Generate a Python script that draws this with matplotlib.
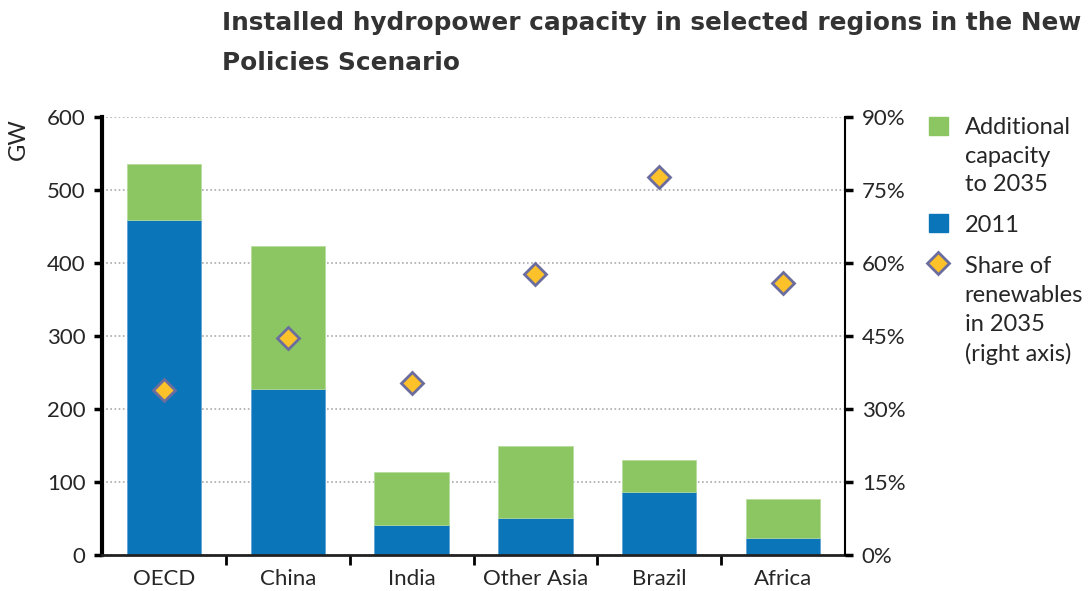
import matplotlib
matplotlib.use("Agg")
from matplotlib import pyplot as plt
from matplotlib.patches import Rectangle
from matplotlib.lines import Line2D
from matplotlib.ticker import PercentFormatter, FixedLocator
import numpy as np

regions = ["OECD", "China", "India", "Other Asia", "Brazil", "Africa"]
cap_2011 = [459, 227, 41, 51, 86, 23]
cap_total_2035 = [536, 423, 114, 149, 130, 77]
share_renew_2035 = [34.0, 44.6, 35.3, 57.7, 77.7, 55.9]

green = "#8bc663"
blue = "#0b75b9"
dia_fill = "#fdc12a"
dia_edge = "#6a6d9e"
txt = "#262626"

plt.rcParams['font.family'] = ['Lato', 'DejaVu Sans']
fs = 16
lfs = 17

added = np.array(cap_total_2035) - np.array(cap_2011)
x = np.arange(len(regions))

fig = plt.figure(figsize=(10.89, 5.91), dpi=100)
ax = fig.add_axes([0.0937, 0.0609, 0.6823, 0.7411])

ax.bar(x, cap_2011, width=0.6, color=blue, edgecolor="#5aa0d8", linewidth=0.5, zorder=2)
ax.bar(x, added, bottom=cap_2011, width=0.6, color=green, edgecolor="#b5dc98", linewidth=0.5, zorder=2)

ax.set_xlim(-0.5, 5.5)
ax.set_ylim(0, 600)
ax.set_yticks(np.arange(0, 601, 100))
ax.yaxis.grid(True, linestyle=(0, (1, 1.5)), color="#aaaaaa", linewidth=1.2, zorder=0)
ax.set_axisbelow(True)

ax.set_xticks(x)
ax.set_xticklabels(regions, fontsize=fs, color=txt)
ax.tick_params(axis='x', which='major', length=0, pad=10)
ax.xaxis.set_minor_locator(FixedLocator(x[:-1] + 0.5))
ax.tick_params(axis='x', which='minor', length=7, width=2, direction='out', color='black')
ax.tick_params(axis='y', labelsize=fs, labelcolor=txt, length=6, width=2.5, direction='out', pad=6)

for s in ["top", "right"]:
    ax.spines[s].set_visible(False)
ax.spines["left"].set_linewidth(3)
ax.spines["bottom"].set_linewidth(2)
ax.spines["bottom"].set_color("#222222")

ax2 = ax.twinx()
ax2.set_ylim(0, 90)
ax2.set_yticks(np.arange(0, 91, 15))
ax2.yaxis.set_major_formatter(PercentFormatter(decimals=0))
ax2.tick_params(axis='y', labelsize=fs, labelcolor=txt, length=6, width=2.5, direction='out', pad=6)
for s in ["top", "left", "bottom"]:
    ax2.spines[s].set_visible(False)
ax2.spines["right"].set_linewidth(1.5)
ax2.plot(x, share_renew_2035, linestyle='none', marker='D', markersize=11,
         markerfacecolor=dia_fill, markeredgecolor=dia_edge, markeredgewidth=2, zorder=5)

fig.text(0.0165, 0.765, "GW", rotation=90, fontsize=lfs, color=txt, ha='center', va='center')

fig.text(0.204, 0.981, "Installed hydropower capacity in selected regions in the New\nPolicies Scenario",
         fontsize=17.8, fontweight='bold', family='DejaVu Sans', color="#333333",
         ha='left', va='top', linespacing=1.85)

# legend
fig.add_artist(Rectangle((0.853, 0.7716), 0.0174, 0.0305, transform=fig.transFigure, color=green))
fig.add_artist(Rectangle((0.853, 0.6075), 0.0174, 0.0305, transform=fig.transFigure, color=blue))
fig.add_artist(Line2D([0.8615], [0.555], transform=fig.transFigure, marker='D', markersize=11,
                      markerfacecolor=dia_fill, markeredgecolor=dia_edge, markeredgewidth=2))
fig.text(0.886, 0.802, "Additional\ncapacity\nto 2035", fontsize=lfs, color=txt, ha='left', va='top', linespacing=1.45)
fig.text(0.886, 0.637, "2011", fontsize=lfs, color=txt, ha='left', va='top')
fig.text(0.886, 0.566, "Share of\nrenewables\nin 2035\n(right axis)", fontsize=lfs, color=txt, ha='left', va='top', linespacing=1.45)

fig.savefig("out.png", dpi=100)
